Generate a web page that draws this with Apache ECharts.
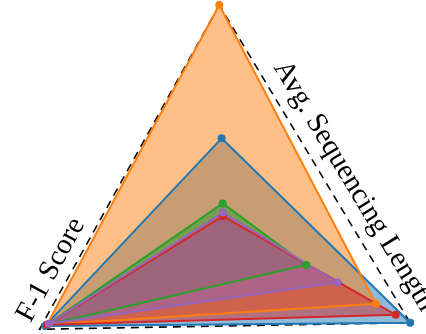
<!DOCTYPE html>
<html>
<head>
<meta charset="utf-8">
<script src="https://cdn.jsdelivr.net/npm/echarts@6/dist/echarts.min.js"></script>
<style>
  html, body { margin: 0; padding: 0; background: #fff; }
  #chart { width: 426px; height: 334px; }
</style>
</head>
<body>
<div id="chart"></div>
<script>
// 三个维度（顶点：上、左下、右下）
const indicatorNames = ['Axis 1', 'Axis 2', 'Axis 3'];
// 边上的文字
const edgeLabels = ['F-1 Score', 'Avg. Sequencing Length'];

const seriesNames = ['blue', 'orange', 'green', 'red', 'purple'];
const seriesColors = ['#1f77b4', '#ff7f0e', '#2ca02c', '#d62728', '#9467bd'];
const blueValues = [0.377, 0.97, 1.0];
const orangeValues = [1.0, 0.96, 0.817];
const greenValues = [0.073, 0.96, 0.444];
const redValues = [0.013, 0.96, 0.923];
const purpleValues = [0.03, 0.95, 0.612];
const allValues = [blueValues, orangeValues, greenValues, redValues, purpleValues];

const myChart = echarts.init(document.getElementById('chart'));

// 先画填充，再画线（线在最上层）
const areaSeries = allValues.map((vals, i) => ({
  type: 'radar',
  z: 2,
  symbol: 'none',
  lineStyle: { width: 0 },
  areaStyle: { color: seriesColors[i], opacity: 0.5 },
  data: [{ name: seriesNames[i], value: vals }]
}));
const lineSeries = allValues.map((vals, i) => ({
  type: 'radar',
  z: 3,
  symbol: 'circle',
  symbolSize: 8,
  itemStyle: { color: seriesColors[i] },
  lineStyle: { color: seriesColors[i], width: 2 },
  data: [{ name: seriesNames[i], value: vals }]
}));

const labelFont = '29px "Liberation Serif"';

const option = {
  animation: false,
  radar: {
    center: [223, 219],
    radius: 214,
    startAngle: 91,
    shape: 'polygon',
    splitNumber: 1,
    indicator: indicatorNames.map((n) => ({ name: n, min: 0, max: 1 })),
    axisName: { show: false },
    axisLine: { show: false },
    axisTick: { show: false },
    axisLabel: { show: false },
    splitArea: { show: false },
    splitLine: { lineStyle: { color: '#000', width: 1.6, type: [8, 6] } }
  },
  graphic: [
    {
      type: 'text',
      x: 51, y: 270,
      rotation: 61.5 * Math.PI / 180,
      style: { text: edgeLabels[0], font: labelFont, fill: '#000', textAlign: 'center', textVerticalAlign: 'middle' }
    },
    {
      type: 'text',
      x: 354, y: 186,
      rotation: -58.8 * Math.PI / 180,
      style: { text: edgeLabels[1], font: labelFont, fill: '#000', textAlign: 'center', textVerticalAlign: 'middle' }
    }
  ],
  series: [...areaSeries, ...lineSeries]
};

myChart.setOption(option);
</script>
</body>
</html>
